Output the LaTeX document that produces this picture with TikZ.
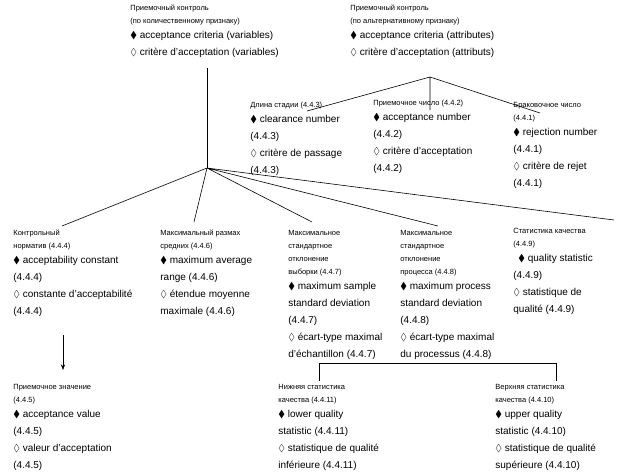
\documentclass[tikz,border=0pt]{standalone}
\usepackage{amssymb}
\usepackage{fontspec}
\setmainfont{Liberation Sans}
\usetikzlibrary{positioning,arrows.meta}

\newcommand{\ru}[1]{{\fontsize{7.5}{10}\selectfont #1}}
\newcommand{\en}{$\blacklozenge$}
\newcommand{\fr}{$\lozenge$}

\begin{document}
\begin{tikzpicture}[
    x=1pt, y=-1pt,
    >=Stealth,
    thick,
    every node/.style={font=\fontsize{10}{17}\selectfont},
    term/.style={anchor=north west, align=left, inner sep=0pt},
    link/.style={draw, line width=0.6pt}
]
\useasboundingbox (0,0) rectangle (626,475);

% ---------------- Terms ----------------
\node[term] (var) at (130,5) {\ru{Приемочный контроль}\\[-4pt]
    \ru{(по количественному признаку)}\\[-2pt]
    \en{} acceptance criteria (variables)\\
    \fr{} critère d'acceptation (variables)};
\node[term] (att) at (350,5) {\ru{Приемочный контроль}\\[-4pt]
    \ru{(по альтернативному признаку)}\\[-2pt]
    \en{} acceptance criteria (attributes)\\
    \fr{} critère d'acceptation (attributs)};

\node[term] (clr) at (250,102) {\ru{Длина стадии (4.4.3)}\\[-2pt]
    \en{} clearance number\\(4.4.3)\\\fr{} critère de passage\\(4.4.3)};
\node[term] (acn) at (373,100) {\ru{Приемочное число (4.4.2)}\\[-2pt]
    \en{} acceptance number\\(4.4.2)\\\fr{} critère d'acceptation\\(4.4.2)};
\node[term] (rej) at (513,102) {\ru{Браковочное число}\\[-4pt]\ru{(4.4.1)}\\[-2pt]
    \en{} rejection number\\(4.4.1)\\\fr{} critère de rejet\\(4.4.1)};

\node[term] (acc) at (13,230) {\ru{Контрольный}\\[-4pt]\ru{норматив (4.4.4)}\\[-2pt]
    \en{} acceptability constant\\(4.4.4)\\\fr{} constante d'acceptabilité\\(4.4.4)};
\node[term] (mar) at (160,230) {\ru{Максимальный размах}\\[-4pt]\ru{средних (4.4.6)}\\[-2pt]
    \en{} maximum average\\range (4.4.6)\\\fr{} étendue moyenne\\maximale (4.4.6)};
\node[term] (mss) at (288,230) {\ru{Максимальное}\\[-4pt]\ru{стандартное}\\[-4pt]\ru{отклонение}\\[-4pt]\ru{выборки (4.4.7)}\\[-2pt]
    \en{} maximum sample\\standard deviation\\(4.4.7)\\\fr{} écart-type maximal\\d'échantillon (4.4.7)};
\node[term] (mps) at (400,230) {\ru{Максимальное}\\[-4pt]\ru{стандартное}\\[-4pt]\ru{отклонение}\\[-4pt]\ru{процесса (4.4.8)}\\[-2pt]
    \en{} maximum process\\standard deviation\\(4.4.8)\\\fr{} écart-type maximal\\du processus (4.4.8)};
\node[term] (qst) at (513,228) {\ru{Статистика качества}\\[-4pt]\ru{(4.4.9)}\\[-2pt]
    \hspace{5pt}\en{} quality statistic\\(4.4.9)\\\fr{} statistique de\\qualité (4.4.9)};

\node[term] (acv) at (13,384) {\ru{Приемочное значение}\\[-4pt]\ru{(4.4.5)}\\[-2pt]
    \en{} acceptance value\\(4.4.5)\\\fr{} valeur d'acceptation\\(4.4.5)};
\node[term] (lqs) at (278,384) {\ru{Нижняя статистика}\\[-4pt]\ru{качества (4.4.11)}\\[-2pt]
    \en{} lower quality\\statistic (4.4.11)\\\fr{} statistique de qualité\\inférieure (4.4.11)};
\node[term] (uqs) at (495,384) {\ru{Верхняя статистика}\\[-4pt]\ru{качества (4.4.10)}\\[-2pt]
    \en{} upper quality\\statistic (4.4.10)\\\fr{} statistique de qualité\\supérieure (4.4.10)};

% ---------------- Branch points ----------------
\coordinate (hub) at (207,168);
\coordinate (top) at (430,77);
\coordinate (brl) at (319,363);
\coordinate (brr) at (556,363);

% ---------------- Links ----------------
\draw[link] (207,68) -- (hub);
\draw[link] (top) -- (307,111)
            (top) -- (430,110)
            (top) -- (540,113);
\draw[link] (hub) -- (62,226)
            (hub) -- (194,222)
            (hub) -- (312,222)
            (hub) -- (438,226)
            (hub) -- (614,220);
\draw[link] (brl) ++(0,18) -- (brl) -- (brr) -- ++(0,18);
\draw[->, line width=0.6pt] (63,335) -- (63,370);

\end{tikzpicture}
\end{document}
